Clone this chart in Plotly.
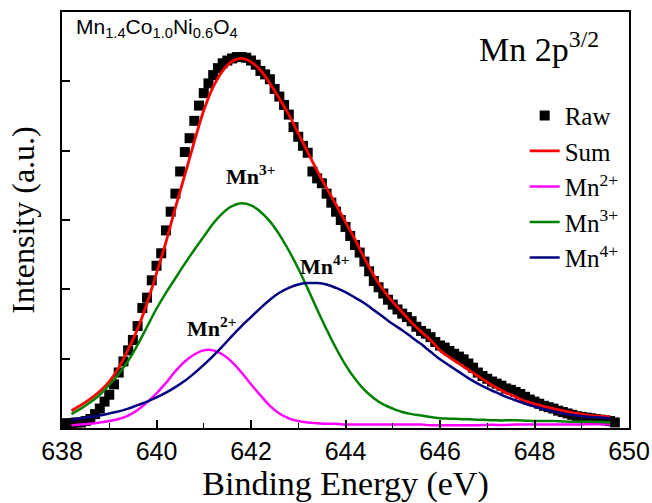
import plotly.graph_objects as go

# ---------------- data ----------------
raw_energy = [638.1, 638.2, 638.3, 638.4, 638.5, 638.6, 638.7, 638.8, 638.9, 639.0,
              639.1, 639.2, 639.3, 639.4, 639.5, 639.6, 639.7, 639.8, 639.9, 640.0,
              640.1, 640.2, 640.3, 640.4, 640.5, 640.6, 640.7, 640.8, 640.9, 641.0,
              641.1, 641.2, 641.3, 641.4, 641.5, 641.6, 641.7, 641.8, 641.9, 642.0,
              642.1, 642.2, 642.3, 642.4, 642.5, 642.6, 642.7, 642.8, 642.9, 643.0,
              643.1, 643.2, 643.3, 643.4, 643.5, 643.6, 643.7, 643.8, 643.9, 644.0,
              644.1, 644.2, 644.3, 644.4, 644.5, 644.6, 644.7, 644.8, 644.9, 645.0,
              645.1, 645.2, 645.3, 645.4, 645.5, 645.6, 645.7, 645.8, 645.9, 646.0,
              646.1, 646.2, 646.3, 646.4, 646.5, 646.6, 646.7, 646.8, 646.9, 647.0,
              647.1, 647.2, 647.3, 647.4, 647.5, 647.6, 647.7, 647.8, 647.9, 648.0,
              648.1, 648.2, 648.3, 648.4, 648.5, 648.6, 648.7, 648.8, 648.9, 649.0,
              649.1, 649.2, 649.3, 649.4, 649.5, 649.6, 649.7]
raw_intensity = [0.07, 0.07, 0.08, 0.08, 0.10, 0.13, 0.20, 0.28, 0.38, 0.48,
                 0.63, 0.80, 0.96, 1.12, 1.27, 1.47, 1.73, 1.88, 2.13, 2.34,
                 2.52, 2.85, 3.12, 3.38, 3.70, 3.98, 4.18, 4.43, 4.65, 4.83,
                 4.97, 5.09, 5.19, 5.26, 5.30, 5.33, 5.35, 5.35, 5.34, 5.30,
                 5.24, 5.15, 5.10, 5.03, 4.89, 4.78, 4.66, 4.52, 4.34, 4.20,
                 4.07, 3.97, 3.70, 3.60, 3.53, 3.38, 3.25, 3.12, 3.00, 2.90,
                 2.77, 2.64, 2.53, 2.40, 2.26, 2.12, 2.03, 1.94, 1.85, 1.78,
                 1.71, 1.65, 1.60, 1.54, 1.46, 1.40, 1.36, 1.31, 1.24, 1.19,
                 1.16, 1.11, 1.07, 1.03, 0.99, 0.93, 0.87, 0.80, 0.75, 0.71,
                 0.67, 0.64, 0.61, 0.57, 0.55, 0.52, 0.49, 0.45, 0.41, 0.38,
                 0.35, 0.32, 0.30, 0.28, 0.25, 0.23, 0.21, 0.19, 0.17, 0.16,
                 0.15, 0.14, 0.13, 0.12, 0.11, 0.10, 0.08]

fit_energy = [638.2, 638.4, 638.6, 638.8, 639.0, 639.2, 639.4, 639.6, 639.8, 640.0,
              640.2, 640.4, 640.6, 640.8, 641.0, 641.2, 641.4, 641.6, 641.8, 642.0,
              642.2, 642.4, 642.6, 642.8, 643.0, 643.2, 643.4, 643.6, 643.8, 644.0,
              644.2, 644.4, 644.6, 644.8, 645.0, 645.2, 645.4, 645.6, 645.8, 646.0,
              646.2, 646.4, 646.6, 646.8, 647.0, 647.2, 647.4, 647.6, 647.8, 648.0,
              648.2, 648.4, 648.6, 648.8, 649.0, 649.2, 649.4, 649.6]
sum_fit = [0.25, 0.33, 0.42, 0.53, 0.67, 0.87, 1.13, 1.43, 1.80, 2.23,
           2.68, 3.18, 3.65, 4.13, 4.58, 4.92, 5.15, 5.29, 5.33, 5.28,
           5.16, 4.97, 4.75, 4.52, 4.25, 3.98, 3.71, 3.46, 3.22, 2.97,
           2.72, 2.45, 2.20, 1.99, 1.82, 1.67, 1.52, 1.39, 1.27, 1.12,
           1.02, 0.93, 0.84, 0.75, 0.66, 0.58, 0.51, 0.45, 0.39, 0.35,
           0.31, 0.28, 0.25, 0.22, 0.20, 0.18, 0.17, 0.16]
mn2_fit = [0.04, 0.05, 0.06, 0.08, 0.10, 0.13, 0.18, 0.26, 0.37, 0.50,
           0.65, 0.82, 0.96, 1.06, 1.12, 1.12, 1.06, 0.95, 0.80, 0.63,
           0.47, 0.32, 0.21, 0.14, 0.10, 0.08, 0.07, 0.06, 0.06, 0.05,
           0.05, 0.05, 0.05, 0.05, 0.05, 0.05, 0.05, 0.05, 0.04, 0.04,
           0.04, 0.04, 0.04, 0.04, 0.045, 0.045, 0.045, 0.05, 0.05, 0.05,
           0.05, 0.05, 0.05, 0.05, 0.05, 0.055, 0.055, 0.055]
mn3_fit = [0.20, 0.28, 0.37, 0.48, 0.62, 0.78, 0.97, 1.20, 1.46, 1.72,
           1.95, 2.16, 2.37, 2.57, 2.76, 2.95, 3.10, 3.20, 3.24, 3.21,
           3.12, 2.98, 2.79, 2.56, 2.30, 2.01, 1.71, 1.42, 1.15, 0.91,
           0.71, 0.55, 0.43, 0.34, 0.28, 0.23, 0.20, 0.18, 0.16, 0.14,
           0.135, 0.13, 0.125, 0.12, 0.115, 0.11, 0.11, 0.11, 0.105, 0.10,
           0.10, 0.10, 0.095, 0.09, 0.09, 0.09, 0.085, 0.08]
mn4_fit = [0.12, 0.14, 0.16, 0.18, 0.21, 0.24, 0.28, 0.33, 0.38, 0.44,
           0.51, 0.59, 0.68, 0.79, 0.91, 1.04, 1.18, 1.33, 1.47, 1.60,
           1.73, 1.85, 1.95, 2.02, 2.07, 2.09, 2.09, 2.07, 2.02, 1.96,
           1.88, 1.80, 1.70, 1.60, 1.50, 1.41, 1.31, 1.21, 1.10, 0.99,
           0.90, 0.81, 0.72, 0.64, 0.57, 0.51, 0.45, 0.40, 0.35, 0.31,
           0.27, 0.24, 0.21, 0.19, 0.17, 0.16, 0.15, 0.14]

x_ticks = [638, 640, 642, 644, 646, 648, 650]
y_ticks = [1, 2, 3, 4, 5]

# ---------------- figure ----------------
SERIF = "Liberation Serif, Times New Roman, serif"
SANS = "Liberation Sans, Arial, sans-serif"

fig = go.Figure()
fig.add_trace(go.Scatter(x=raw_energy, y=raw_intensity, mode="markers", name="Raw",
                         marker=dict(symbol="square", size=10, color="black", line=dict(width=0))))
fig.add_trace(go.Scatter(x=fit_energy, y=sum_fit, mode="lines", name="Sum",
                         line=dict(color="#FF0000", width=2.8, shape="spline")))
fig.add_trace(go.Scatter(x=fit_energy, y=mn2_fit, mode="lines", name="Mn<sup>2+</sup>",
                         line=dict(color="#FF00FF", width=2.5, shape="spline")))
fig.add_trace(go.Scatter(x=fit_energy, y=mn3_fit, mode="lines", name="Mn<sup>3+</sup>",
                         line=dict(color="#008000", width=2.5, shape="spline")))
fig.add_trace(go.Scatter(x=fit_energy, y=mn4_fit, mode="lines", name="Mn<sup>4+</sup>",
                         line=dict(color="#000080", width=2.5, shape="spline")))

fig.update_layout(
    width=652, height=503,
    margin=dict(l=62, r=23, t=12, b=75, autoexpand=False),
    paper_bgcolor="white", plot_bgcolor="white",
    showlegend=True,
    legend=dict(x=0.816, y=0.806, xanchor="left", yanchor="top",
                font=dict(family=SERIF, size=25, color="black"),
                bgcolor="rgba(0,0,0,0)", borderwidth=0, tracegroupgap=0),
    xaxis=dict(range=[638, 650], tickvals=x_ticks, ticktext=[str(v) for v in x_ticks],
               automargin=False,
               ticks="inside", ticklen=8, tickwidth=1.5, tickcolor="black",
               minor=dict(dtick=1, ticks="inside", ticklen=5, tickwidth=1.2, tickcolor="black"),
               showline=True, linecolor="black", linewidth=1.6, mirror=True,
               showgrid=False, zeroline=False,
               tickfont=dict(family=SANS, size=25, color="black"),
               title=dict(text="Binding Energy (eV)", font=dict(family=SERIF, size=34, color="black"),
                          standoff=8)),
    yaxis=dict(range=[0, 6], tickvals=y_ticks, showticklabels=False,
               automargin=False,
               ticks="inside", ticklen=8, tickwidth=1.5, tickcolor="black",
               showline=True, linecolor="black", linewidth=1.6, mirror=True,
               showgrid=False, zeroline=False,
               title=dict(text="Intensity (a.u.)", font=dict(family=SERIF, size=32, color="black"),
                          standoff=16)),
)

annotations = [
    dict(text="Mn<sub>1.4</sub>Co<sub>1.0</sub>Ni<sub>0.6</sub>O<sub>4</sub>", x=0.022, y=0.998,
         xref="paper", yref="paper", xanchor="left", yanchor="top", showarrow=False,
         font=dict(family=SANS, size=21, color="black")),
    dict(text="Mn 2p<sup>3/2</sup>", x=0.95, y=0.972, xref="paper", yref="paper",
         xanchor="right", yanchor="top", showarrow=False,
         font=dict(family=SERIF, size=34, color="black")),
    dict(text="<b>Mn<sup>3+</sup></b>", x=641.98, y=3.65, xref="x", yref="y", showarrow=False,
         xanchor="center", yanchor="middle", font=dict(family=SERIF, size=22, color="black")),
    dict(text="<b>Mn<sup>4+</sup></b>", x=643.55, y=2.35, xref="x", yref="y", showarrow=False,
         xanchor="center", yanchor="middle", font=dict(family=SERIF, size=22, color="black")),
    dict(text="<b>Mn<sup>2+</sup></b>", x=641.17, y=1.45, xref="x", yref="y", showarrow=False,
         xanchor="center", yanchor="middle", font=dict(family=SERIF, size=22, color="black")),
]
fig.update_layout(annotations=annotations)

fig.write_html("out.html", config={"displayModeBar": False},
               post_script="document.body.style.margin='0';")
